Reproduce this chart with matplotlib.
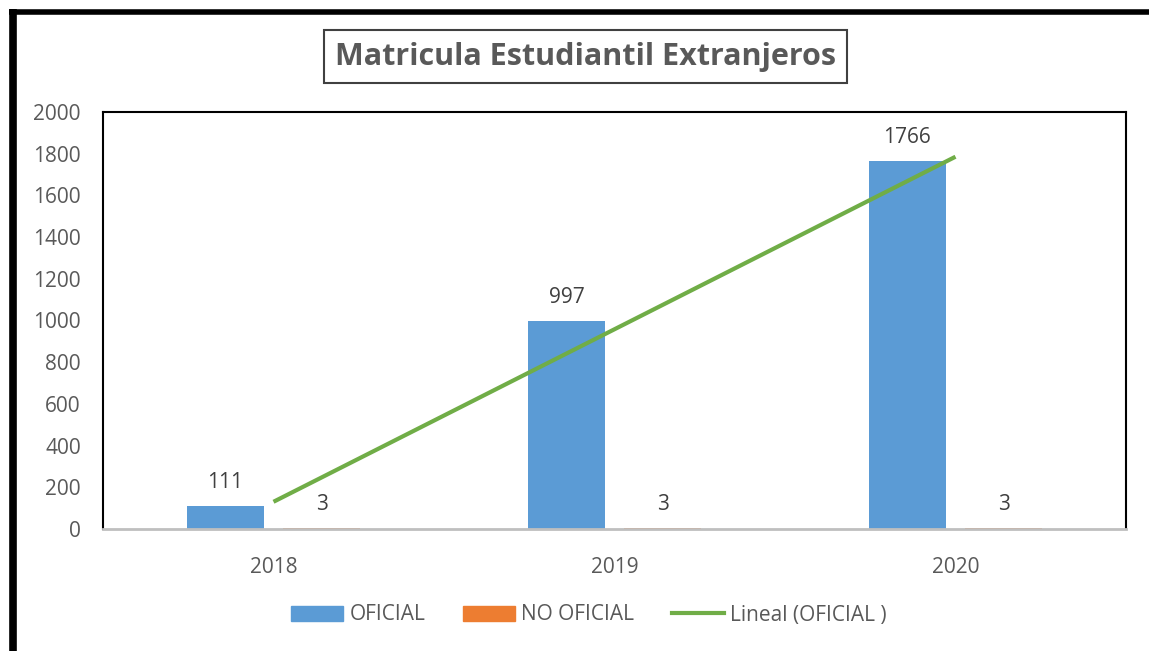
import matplotlib
matplotlib.use("Agg")
import matplotlib.pyplot as plt
from matplotlib.patches import Patch, Rectangle
from matplotlib.lines import Line2D
import numpy as np

# data
years = ["2018", "2019", "2020"]
oficial = [111, 997, 1766]
no_oficial = [3, 3, 3]

plt.rcParams['font.family'] = ['Open Sans', 'DejaVu Sans']
gray_txt = '#595959'
blue = '#5b9bd5'
orange = '#ed7d31'
green = '#70ad47'
fs = 15

fig = plt.figure(figsize=(11.49, 6.51), dpi=100)
ax = fig.add_axes([103/1149, 1 - 529/651, (1126 - 103)/1149, (529 - 112)/651])

x = np.arange(len(years))
w = 0.226
off = 0.141
ax.bar(x - off, oficial, w, color=blue)
ax.bar(x + off, no_oficial, w, color=orange)

# linear trend of OFICIAL
k, c = np.polyfit(x, oficial, 1)
ax.plot(x, k * x + c, color=green, lw=3, solid_capstyle='butt')

for xi, v in zip(x, oficial):
    ax.annotate(str(v), (xi - off, v), xytext=(0, 17), textcoords='offset points',
                ha='center', va='center', fontsize=fs, color='#404040')
for xi, v in zip(x, no_oficial):
    ax.annotate(str(v), (xi + off, v), xytext=(0, 17), textcoords='offset points',
                ha='center', va='center', fontsize=fs, color='#404040')

ax.set_xlim(-0.5, 2.5)
ax.set_ylim(0, 2000)
ax.set_yticks(range(0, 2001, 200))
ax.set_xticks(x)
ax.set_xticklabels(years)
ax.tick_params(axis='both', length=0, labelsize=fs, labelcolor=gray_txt)
ax.tick_params(axis='y', pad=16)
ax.tick_params(axis='x', pad=20)
for s in ['left', 'top', 'right']:
    ax.spines[s].set_color('black')
    ax.spines[s].set_linewidth(1.5)
ax.spines['bottom'].set_color('#bfbfbf')
ax.spines['bottom'].set_linewidth(2)

# title in a box
fig.add_artist(Rectangle((324/1149, 1 - 83/651), (847 - 324)/1149, 53/651,
                         transform=fig.transFigure, fill=False, ec='#404040', lw=1.5))
fig.text(585.5/1149, 1 - 57/651, "Matricula Estudiantil Extranjeros", ha='center', va='center',
         fontsize=22, fontweight='bold', color=gray_txt)

# outer black frame (left and top)
fig.add_artist(Line2D([12.5/1149, 12.5/1149], [0, 1 - 9/651], transform=fig.transFigure,
                      color='black', lw=5.5, solid_capstyle='butt'))
fig.add_artist(Line2D([9/1149, 1], [1 - 11.5/651, 1 - 11.5/651], transform=fig.transFigure,
                      color='black', lw=4, solid_capstyle='butt'))

handles = [Patch(color=blue), Patch(color=orange), Line2D([], [], color=green, lw=3)]
labels = ["OFICIAL", "NO OFICIAL", "Lineal (OFICIAL )"]
fig.legend(handles, labels, loc='center', bbox_to_anchor=(589/1149, 1 - 615/651), ncol=3,
           frameon=False, fontsize=fs, labelcolor=gray_txt, handlelength=2.5,
           handletextpad=0.3, columnspacing=1.8)

fig.savefig("out.png", dpi=100)
